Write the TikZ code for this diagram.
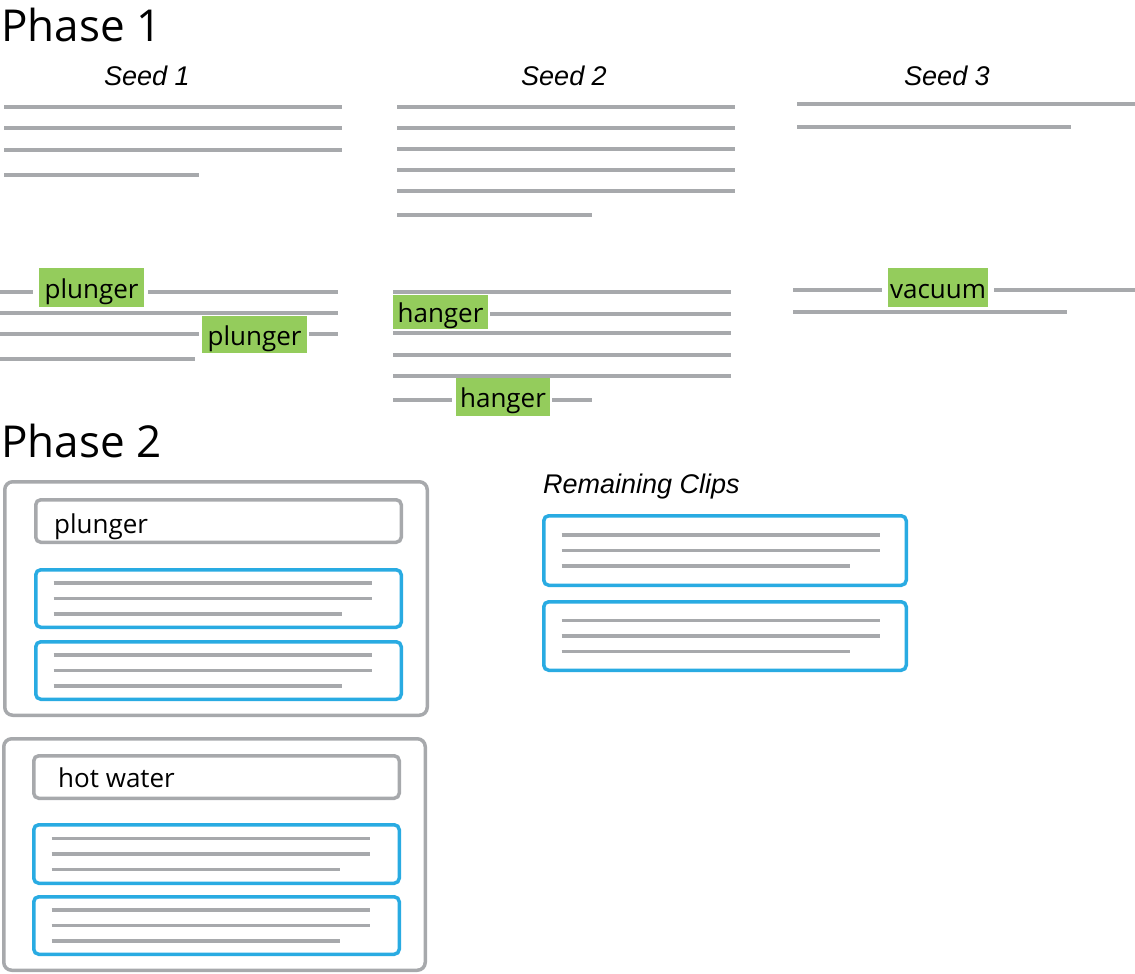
\documentclass[tikz,border=0pt]{standalone}
\usepackage{fontspec}
\setmainfont{Open Sans}
\newfontfamily\seedfont{Liberation Sans}
\usetikzlibrary{calc}

\definecolor{linegray}{RGB}{167,169,172}
\definecolor{clipblue}{RGB}{41,171,226}
\definecolor{hilitegreen}{RGB}{148,204,92}

\tikzset{
  txtline/.style = {draw = linegray, line width = 3.5pt},
  phaselabel/.style = {inner sep = 0pt, anchor = base west,
    font = \fontsize{44}{50}\selectfont},
  seedlabel/.style = {inner sep = 0pt, anchor = base,
    font = \seedfont\itshape\fontsize{27}{30}\selectfont},
  hilite/.style = {fill = hilitegreen, inner sep = 0pt, text height = 24pt,
    text depth = 3pt, font = \fontsize{26}{30}\selectfont},
  termlabel/.style = {inner sep = 0pt, anchor = base west,
    font = \fontsize{26}{30}\selectfont},
  groupbox/.style = {draw = linegray, line width = 3.5pt, rounded corners = 8pt,
    anchor = north west, inner sep = 0pt},
  termbox/.style = {draw = linegray, line width = 3.5pt, rounded corners = 5pt,
    anchor = north west, inner sep = 0pt},
  clipbox/.style = {draw = clipblue, line width = 3.5pt, rounded corners = 5pt,
    anchor = north west, inner sep = 0pt}
}

% three text lines inside a clip box
\newcommand{\cliplines}[1]{%
  \foreach \dy/\len in {-15.5/318, 0/318, 15.5/288}
    \draw[txtline] ($(#1.west) + (19.5,\dy)$) -- ++(\len,0);}

\begin{document}
\begin{tikzpicture}[x = 1pt, y = -1pt]
  \useasboundingbox (0,0) rectangle (1135,974);

  % Phase 1
  \node[phaselabel] (phaseA) at (1,42) {Phase 1};
  \node[seedlabel] (seedA) at (147,85) {Seed 1};
  \node[seedlabel] (seedB) at (564,85) {Seed 2};
  \node[seedlabel] (seedC) at (947,85) {Seed 3};

  \foreach \y in {107, 128, 150}
    \draw[txtline] (4,\y) -- (342,\y);
  \draw[txtline] (4,175) -- (199,175);
  \foreach \y in {107, 128, 149, 170, 191}
    \draw[txtline] (397,\y) -- (735,\y);
  \draw[txtline] (397,215) -- (592,215);
  \draw[txtline] (797,104) -- (1135,104);
  \draw[txtline] (797,127) -- (1071,127);

  % highlighted terms
  \node[hilite, minimum width = 105pt, minimum height = 39pt] (plungerA) at (91.5,287.5) {plunger};
  \node[hilite, minimum width = 105pt, minimum height = 37pt] (plungerB) at (254.5,334.5) {plunger};
  \node[hilite, minimum width = 95pt, minimum height = 34pt] (hangerA) at (440.5,312) {hanger};
  \node[hilite, minimum width = 94pt, minimum height = 38pt] (hangerB) at (503,397) {hanger};
  \node[hilite, minimum width = 100pt, minimum height = 39pt] (vacuumA) at (938,287.5) {vacuum};

  \draw[txtline] (0,292) -- (33,292);
  \draw[txtline] (148,292) -- (338,292);
  \draw[txtline] (0,313) -- (338,313);
  \draw[txtline] (0,334) -- (199,334);
  \draw[txtline] (309,334) -- (338,334);
  \draw[txtline] (0,359) -- (195,359);

  \draw[txtline] (393,292) -- (731,292);
  \draw[txtline] (490,314) -- (731,314);
  \foreach \y in {333, 355, 376}
    \draw[txtline] (393,\y) -- (731,\y);
  \draw[txtline] (393,400) -- (452,400);
  \draw[txtline] (552,400) -- (592,400);

  \draw[txtline] (793,290) -- (882,290);
  \draw[txtline] (994,290) -- (1135,290);
  \draw[txtline] (793,312) -- (1067,312);

  % Phase 2
  \node[phaselabel] (phaseB) at (1,457) {Phase 2};

  \node[groupbox, minimum width = 422.5pt, minimum height = 233.5pt] (groupA) at (3,480) {};
  \node[termbox, minimum width = 365.5pt, minimum height = 42.5pt] (termA) at (34,498) {};
  \node[termlabel] (termAtext) at (54,533) {plunger};
  \node[clipbox, minimum width = 365.5pt, minimum height = 57.5pt] (clipA) at (34,568) {};
  \node[clipbox, minimum width = 365.5pt, minimum height = 57.5pt] (clipB) at (34,640) {};
  \cliplines{clipA}
  \cliplines{clipB}

  \node[groupbox, minimum width = 421.5pt, minimum height = 231.5pt] (groupB) at (2,737) {};
  \node[termbox, minimum width = 365.5pt, minimum height = 42.5pt] (termB) at (32,754) {};
  \node[termlabel] (termBtext) at (58,787) {hot water};
  \node[clipbox, minimum width = 365.5pt, minimum height = 58.5pt] (clipC) at (32,823) {};
  \node[clipbox, minimum width = 365.5pt, minimum height = 57.5pt] (clipD) at (32,895) {};
  \cliplines{clipC}
  \cliplines{clipD}

  % remaining clips
  \node[seedlabel, anchor = base west] (remain) at (543,493) {Remaining Clips};
  \node[clipbox, minimum width = 362.5pt, minimum height = 69.5pt] (clipE) at (542,514) {};
  \node[clipbox, minimum width = 362.5pt, minimum height = 68.5pt] (clipF) at (542,600) {};
  \cliplines{clipE}
  \cliplines{clipF}
\end{tikzpicture}
\end{document}
